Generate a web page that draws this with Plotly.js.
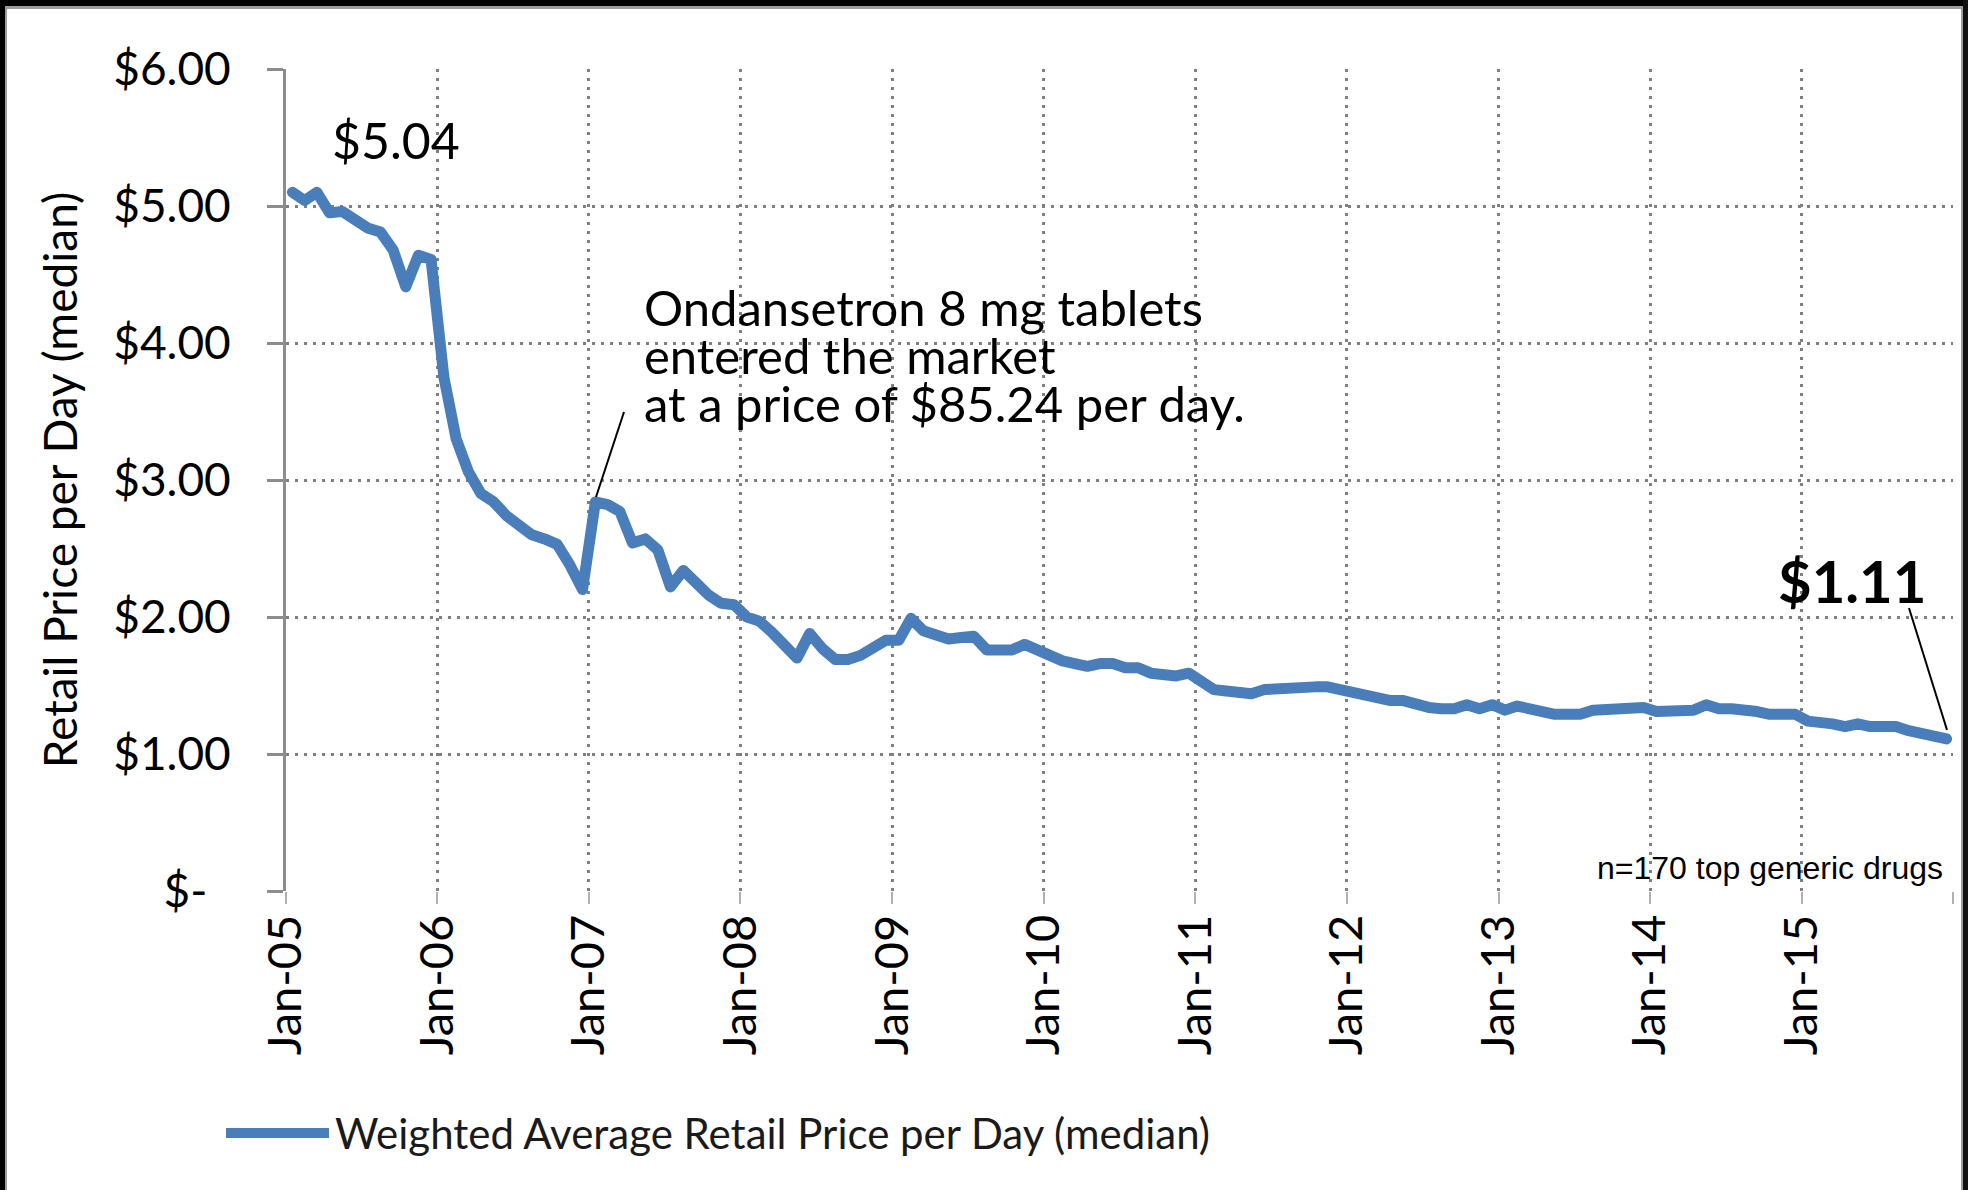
<!DOCTYPE html>
<html>
<head>
<meta charset="utf-8">
<script src="https://cdn.plot.ly/plotly-3.0.1.min.js"></script>
<style>
  html, body { margin: 0; padding: 0; background: #fff; }
  #chart { position: absolute; left: 0; top: 0; width: 1968px; height: 1190px; }
  .frame { position: absolute; }
  /* Excel draws the series with rounded joins and caps */
  #chart .js-line { stroke-linejoin: round; stroke-linecap: round; }
</style>
</head>
<body>
<div id="chart"></div>
<div class="frame" style="left:0;top:6px;width:1968px;height:3px;background:#9c9c9c"></div>
<div class="frame" style="left:5px;top:0;width:2px;height:1190px;background:#9c9c9c"></div>
<div class="frame" style="left:1961px;top:0;width:2px;height:1190px;background:#9c9c9c"></div>
<div class="frame" style="left:0;top:0;width:1968px;height:6px;background:#000"></div>
<div class="frame" style="left:0;top:0;width:5px;height:1190px;background:#000"></div>
<div class="frame" style="left:1963px;top:0;width:5px;height:1190px;background:#111"></div>
<script>
// Monthly weighted average retail price per day (median), Jan-05 .. Dec-15
const months = [];
for (let yr = 2005; yr <= 2015; yr++) {
  for (let mo = 1; mo <= 12; mo++) {
    months.push(`${yr}-${String(mo).padStart(2, "0")}`);
  }
}

const priceSeries = [
  // 2005
  5.10, 5.04, 5.10, 4.95, 4.96, 4.89, 4.84, 4.81, 4.68, 4.41, 4.64, 4.61,
  // 2006
  3.75, 3.30, 3.06, 2.90, 2.84, 2.74, 2.66, 2.60, 2.57, 2.53, 2.38, 2.20,
  // 2007
  2.84, 2.82, 2.77, 2.54, 2.57, 2.49, 2.22, 2.34, 2.25, 2.16, 2.10, 2.09,
  // 2008
  2.00, 1.97, 1.89, 1.78, 1.70, 1.88, 1.77, 1.69, 1.69, 1.72, 1.78, 1.83,
  // 2009
  1.83, 1.99, 1.90, 1.86, 1.84, 1.85, 1.86, 1.76, 1.76, 1.76, 1.80, 1.76,
  // 2010
  1.71, 1.68, 1.66, 1.64, 1.66, 1.66, 1.63, 1.63, 1.59, 1.57, 1.57, 1.59,
  // 2011
  1.54, 1.47, 1.46, 1.44, 1.44, 1.47, 1.48, 1.48, 1.50, 1.49, 1.49, 1.47,
  // 2012
  1.44, 1.43, 1.42, 1.39, 1.39, 1.36, 1.34, 1.33, 1.33, 1.36, 1.33, 1.36,
  // 2013
  1.32, 1.35, 1.33, 1.30, 1.29, 1.29, 1.29, 1.32, 1.33, 1.33, 1.33, 1.34,
  // 2014
  1.31, 1.31, 1.31, 1.32, 1.36, 1.33, 1.33, 1.33, 1.31, 1.29, 1.29, 1.29,
  // 2015
  1.24, 1.22, 1.22, 1.20, 1.22, 1.20, 1.20, 1.20, 1.17, 1.14, 1.13, 1.11,
];

const xTickDates = [
  "2005-01-01", "2006-01-01", "2007-01-01", "2008-01-01", "2009-01-01", "2010-01-01",
  "2011-01-01", "2012-01-01", "2013-01-01", "2014-01-01", "2015-01-01", "2016-01-01",
];
const xTickLabels = [
  "Jan-05", "Jan-06", "Jan-07", "Jan-08", "Jan-09", "Jan-10",
  "Jan-11", "Jan-12", "Jan-13", "Jan-14", "Jan-15", "",
];
const yTickValues = [0, 1, 2, 3, 4, 5, 6];
const yTickLabels = ["$-\u00a0\u00a0", "$1.00", "$2.00", "$3.00", "$4.00", "$5.00", "$6.00"];

const seriesName = "Weighted Average Retail Price per Day (median)";
const noteLines = [
  "Ondansetron 8 mg tablets",
  "entered the market",
  "at a price of $85.24 per day.",
];
const startLabel = "$5.04";
const endLabel = "$1.11";
const sampleNote = "n=170 top generic drugs";

// Page geometry (px)
const W = 1968, H = 1190;
const plotLeft = 286, plotRight = 1953, plotTop = 69, plotBottom = 891;
const toPaperX = (px) => (px - plotLeft) / (plotRight - plotLeft);
const toPaperY = (py) => (plotBottom - py) / (plotBottom - plotTop);

const lineColor = "#4a7ebb";
const gridColor = "#808080";
const fontFamily = "Lato, 'Open Sans', sans-serif";

const trace = {
  x: months,
  y: priceSeries,
  xperiod: "M1",
  xperiodalignment: "middle",
  type: "scatter",
  mode: "lines",
  name: seriesName,
  line: { color: lineColor, width: 11 },
  showlegend: false,
  hoverinfo: "x+y",
};

function textNote(text, px, py, opts) {
  return Object.assign(
    {
      text: text,
      xref: "paper",
      yref: "paper",
      x: toPaperX(px),
      y: toPaperY(py),
      showarrow: false,
      xanchor: "left",
      yanchor: "middle",
      font: { family: fontFamily, size: 49, color: "#000" },
    },
    opts || {}
  );
}

function pixelLine(x0, y0, x1, y1, color, width) {
  return {
    type: "line",
    xref: "paper",
    yref: "paper",
    x0: toPaperX(x0),
    y0: toPaperY(y0),
    x1: toPaperX(x1),
    y1: toPaperY(y1),
    line: { color: color, width: width },
  };
}

const annotations = [
  textNote(startLabel, 396, 140, { xanchor: "center", font: { family: fontFamily, size: 50, color: "#000" } }),
  // the three note lines sit tightly stacked, as in the original text box
  textNote(noteLines[0], 642, 307),
  textNote(noteLines[1], 642, 355),
  textNote(noteLines[2], 642, 403),
  textNote(endLabel, 1852, 580, {
    xanchor: "center",
    font: { family: fontFamily, size: 58, color: "#000", weight: "bold" },
  }),
  textNote(sampleNote, 1945, 868, {
    xanchor: "right",
    font: { family: "'Liberation Sans', Arial, sans-serif", size: 32, color: "#000" },
  }),
  // legend entry text
  textNote(seriesName, 333, 1133, { font: { family: fontFamily, size: 42, color: "#1a1a1a" } }),
];

const shapes = [
  pixelLine(596, 497, 624, 412, "#000", 2),
  pixelLine(1909, 608, 1947, 730, "#000", 2),
  // legend entry sample
  pixelLine(226, 1133, 329, 1133, lineColor, 10),
];

const gridStyle = {
  showgrid: true,
  gridcolor: gridColor,
  gridwidth: 3,
  griddash: "3px,6px",
  zeroline: false,
};

const layout = {
  width: W,
  height: H,
  margin: { l: plotLeft, r: W - plotRight, t: plotTop, b: H - plotBottom, pad: 0 },
  paper_bgcolor: "rgba(0,0,0,0)",
  plot_bgcolor: "rgba(0,0,0,0)",
  showlegend: false,
  font: { family: fontFamily, color: "#000" },
  xaxis: Object.assign({}, gridStyle, {
    type: "date",
    range: ["2005-01-01", "2016-01-01"],
    tickmode: "array",
    tickvals: xTickDates,
    ticktext: xTickLabels,
    tickangle: -90,
    ticks: "outside",
    ticklen: 12,
    tickwidth: 2,
    tickcolor: "#b0b0b0",
    showline: false,
    ticklabelstandoff: -8,
    tickfont: { family: fontFamily, size: 47, color: "#000" },
  }),
  yaxis: Object.assign({}, gridStyle, {
    range: [0, 6],
    tickmode: "array",
    tickvals: yTickValues,
    ticktext: yTickLabels,
    ticks: "outside",
    ticklen: 16,
    tickwidth: 3,
    tickcolor: "#8d8d8d",
    showline: true,
    linecolor: "#8d8d8d",
    linewidth: 3,
    ticklabelstandoff: 27,
    tickfont: { family: fontFamily, size: 46, color: "#000" },
    title: {
      text: "Retail Price per Day (median)",
      font: { family: fontFamily, size: 46, color: "#000" },
      standoff: 22,
    },
  }),
  annotations: annotations,
  shapes: shapes,
};

Plotly.newPlot("chart", [trace], layout, { displayModeBar: false, staticPlot: true });
</script>
</body>
</html>
